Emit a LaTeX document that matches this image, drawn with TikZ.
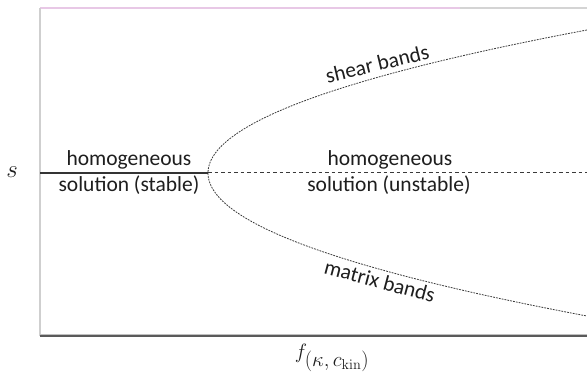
\documentclass[tikz,border=0pt]{standalone}
\usepackage[no-math]{fontspec}
\setmainfont{Carlito}
\definecolor{txt}{HTML}{1E1E1E}
\definecolor{pinkline}{HTML}{E8C8E6}
\definecolor{topgray}{HTML}{D4D4D4}
\definecolor{leftaxis}{HTML}{CFCFCF}
\definecolor{bottomaxis}{HTML}{5A5A5A}
\definecolor{curve}{HTML}{3A3A3A}
\tikzset{
  lbl/.style={text=txt, font=\fontsize{21.5}{24}\selectfont, inner sep=0pt},
  branch/.style={draw=curve, line width=0.8pt, dash pattern=on 1.8pt off 1.1pt},
  stablepath/.style={draw=curve!90!black, line width=1.3pt},
  unstablepath/.style={draw=curve, line width=1pt, dash pattern=on 3.5pt off 3pt},
}
\begin{document}
\begin{tikzpicture}[x=1pt,y=-1pt]
\useasboundingbox[fill=white] (0,0) rectangle (587,374);
% frame / axes
\coordinate (tl) at (40,8);
\coordinate (tm) at (460,8);
\coordinate (tr) at (587,8);
\coordinate (bl) at (40,336);
\coordinate (br) at (587,336);
\draw[pinkline, line width=1.2pt] (tl) -- (tm);
\draw[topgray, line width=1.2pt] (tm) -- (tr);
\draw[leftaxis, line width=1.6pt] (tl) -- (bl);
\draw[black!25, line width=1pt] ([yshift=1.8pt]bl) -- ([yshift=1.8pt]br);
\draw[bottomaxis, line width=2pt] (bl) -- (br);
% homogeneous solution line
\coordinate (h0) at (40,173);
\coordinate (v) at (208,173);
\coordinate (h1) at (587,173);
\draw[stablepath] (h0) -- (v);
\draw[unstablepath] (v) -- (h1);
% bifurcation branches (parabola)
\draw[branch] plot[domain=-1.43:1.43, samples=120, smooth] ({208+185.3*\x*\x},{173+100*\x});
% labels
\node[lbl, anchor=base, rotate=13.5] (shear) at (379,71) {shear bands};
\node[lbl, anchor=base, rotate=-15] (matrix) at (378,288) {matrix bands};
\node[lbl, anchor=base] (hl1) at (129,166) {homogeneous};
\node[lbl, anchor=base] (hl2) at (129,192) {solution (stable)};
\node[lbl, anchor=base] (hr1) at (390,165.5) {homogeneous};
\node[lbl, anchor=base] (hr2) at (389,192) {solution (unstable)};
\node[text=txt, inner sep=0pt, font=\fontsize{24}{26}\selectfont] (s) at (12,172) {$s$};
\node[text=txt, inner sep=0pt, font=\fontsize{20}{24}\selectfont] (f) at (332,358) {$f_{\textstyle(\kappa,c_{\mathrm{kin}})}$};
\end{tikzpicture}
\end{document}
